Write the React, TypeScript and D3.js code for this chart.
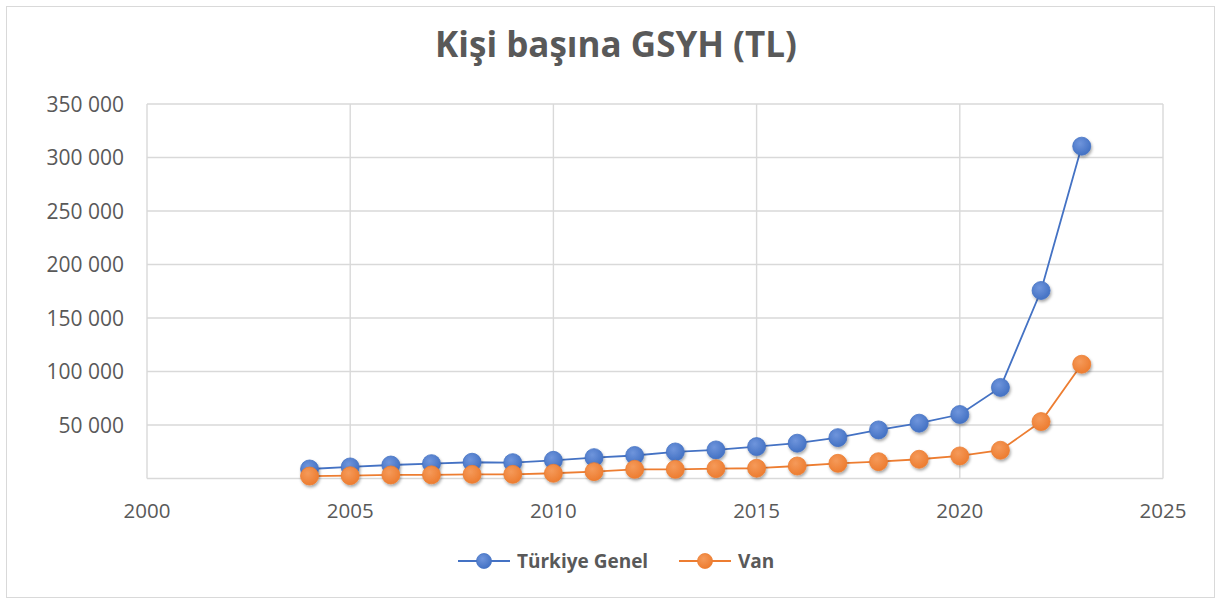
import React, { useEffect, useRef } from "react";
import * as d3 from "d3";

const years = [2004, 2005, 2006, 2007, 2008, 2009, 2010, 2011, 2012, 2013, 2014, 2015, 2016, 2017, 2018, 2019, 2020, 2021, 2022, 2023];
const turkiye = [8900, 10800, 12600, 13900, 15200, 14800, 17000, 19500, 21500, 24800, 26700, 29800, 33000, 38200, 45400, 51700, 59800, 85100, 175700, 310600];
const van = [2300, 2600, 3300, 3400, 3900, 3900, 4900, 6400, 8600, 8600, 9200, 9600, 11700, 14200, 15700, 18000, 21100, 26400, 53200, 106800];
const xTicks = [2000, 2005, 2010, 2015, 2020, 2025];
const yTicks = [50000, 100000, 150000, 200000, 250000, 300000, 350000];

const series = [
  { name: "Türkiye Genel", values: turkiye, color: "#4472C4", light: "#6f95dc", id: "gb" },
  { name: "Van", values: van, color: "#ED7D31", light: "#f59a5a", id: "go" },
];

const App = () => {
  const ref = useRef<SVGSVGElement>(null);

  useEffect(() => {
    const width = 1221, height = 605;
    const margin = { top: 104, left: 147, right: 58, bottom: 127 };
    const svg = d3.select(ref.current);
    svg.selectAll("*").remove();
    svg.attr("width", width).attr("height", height);

    const defs = svg.append("defs");
    series.forEach((s) => {
      const grad = defs.append("radialGradient").attr("id", s.id).attr("cx", "40%").attr("cy", "35%").attr("r", "65%");
      grad.append("stop").attr("offset", "0%").attr("stop-color", s.light);
      grad.append("stop").attr("offset", "100%").attr("stop-color", s.color);
    });
    const f = defs.append("filter").attr("id", "sh").attr("x", "-50%").attr("y", "-50%").attr("width", "200%").attr("height", "200%");
    f.append("feDropShadow").attr("dx", 1).attr("dy", 2).attr("stdDeviation", 1.5).attr("flood-color", "#000").attr("flood-opacity", 0.35);

    svg.append("rect").attr("x", 6.5).attr("y", 6.5).attr("width", 1208).attr("height", 591)
      .attr("fill", "#fff").attr("stroke", "#d9d9d9");

    const x = d3.scaleLinear().domain([2000, 2025]).range([margin.left, width - margin.right]);
    const y = d3.scaleLinear().domain([0, 350000]).range([height - margin.bottom + 0.5, margin.top]);

    const grid = svg.append("g").attr("stroke", "#d9d9d9").attr("stroke-width", 1.4);
    yTicks.forEach((t) => {
      grid.append("line").attr("x1", x(2000)).attr("x2", x(2025)).attr("y1", y(t)).attr("y2", y(t));
    });
    xTicks.forEach((t) => {
      grid.append("line").attr("x1", x(t)).attr("x2", x(t)).attr("y1", y(0)).attr("y2", y(350000));
    });
    grid.append("line").attr("x1", x(2000)).attr("x2", x(2025)).attr("y1", y(0)).attr("y2", y(0));

    const font = "'Open Sans', sans-serif";
    const fmt = (v: number) => d3.format(",")(v).replace(/,/g, " ");

    svg.append("g").selectAll("text").data(yTicks).join("text")
      .attr("x", x(2000) - 23).attr("y", (d) => y(d)).attr("dy", "0.36em")
      .attr("text-anchor", "end").attr("font-family", font).attr("font-size", 21).attr("fill", "#595959")
      .text((d) => fmt(d));

    svg.append("g").selectAll("text").data(xTicks).join("text")
      .attr("x", (d) => x(d)).attr("y", y(0) + 39)
      .attr("text-anchor", "middle").attr("font-family", font).attr("font-size", 20.5).attr("fill", "#595959")
      .text((d) => d);

    svg.append("text").attr("x", 616).attr("y", 57).attr("text-anchor", "middle")
      .attr("font-family", font).attr("font-size", 35).attr("font-weight", "bold").attr("fill", "#595959")
      .text("Kişi başına GSYH (TL)");

    const line = d3.line<number>().x((_, i) => x(years[i])).y((d) => y(d));
    series.forEach((s) => {
      svg.append("path").datum(s.values).attr("d", line).attr("fill", "none")
        .attr("stroke", s.color).attr("stroke-width", 1.8);
    });
    series.forEach((s) => {
      svg.append("g").attr("filter", "url(#sh)").selectAll("circle").data(s.values).join("circle")
        .attr("cx", (_, i) => x(years[i])).attr("cy", (d) => y(d)).attr("r", 9)
        .attr("fill", `url(#${s.id})`).attr("stroke", s.color).attr("stroke-width", 0.8);
    });

    const legendPos = [{ x0: 458, tx: 517 }, { x0: 679, tx: 738 }];
    series.forEach((s, i) => {
      const g = svg.append("g");
      const p = legendPos[i];
      g.append("line").attr("x1", p.x0).attr("x2", p.x0 + 52).attr("y1", 561).attr("y2", 561)
        .attr("stroke", s.color).attr("stroke-width", 1.8);
      g.append("circle").attr("cx", p.x0 + 26).attr("cy", 561).attr("r", 7.5)
        .attr("fill", `url(#${s.id})`).attr("stroke", s.color).attr("stroke-width", 0.8);
      g.append("text").attr("x", p.tx).attr("y", 561).attr("dy", "0.36em")
        .attr("font-family", font).attr("font-size", 19).attr("font-weight", "bold").attr("fill", "#595959")
        .text(s.name);
    });
  }, []);

  return (
    <div style={{ position: "absolute", left: 0, top: 0 }}>
      <svg ref={ref}></svg>
    </div>
  );
};

export default App;
